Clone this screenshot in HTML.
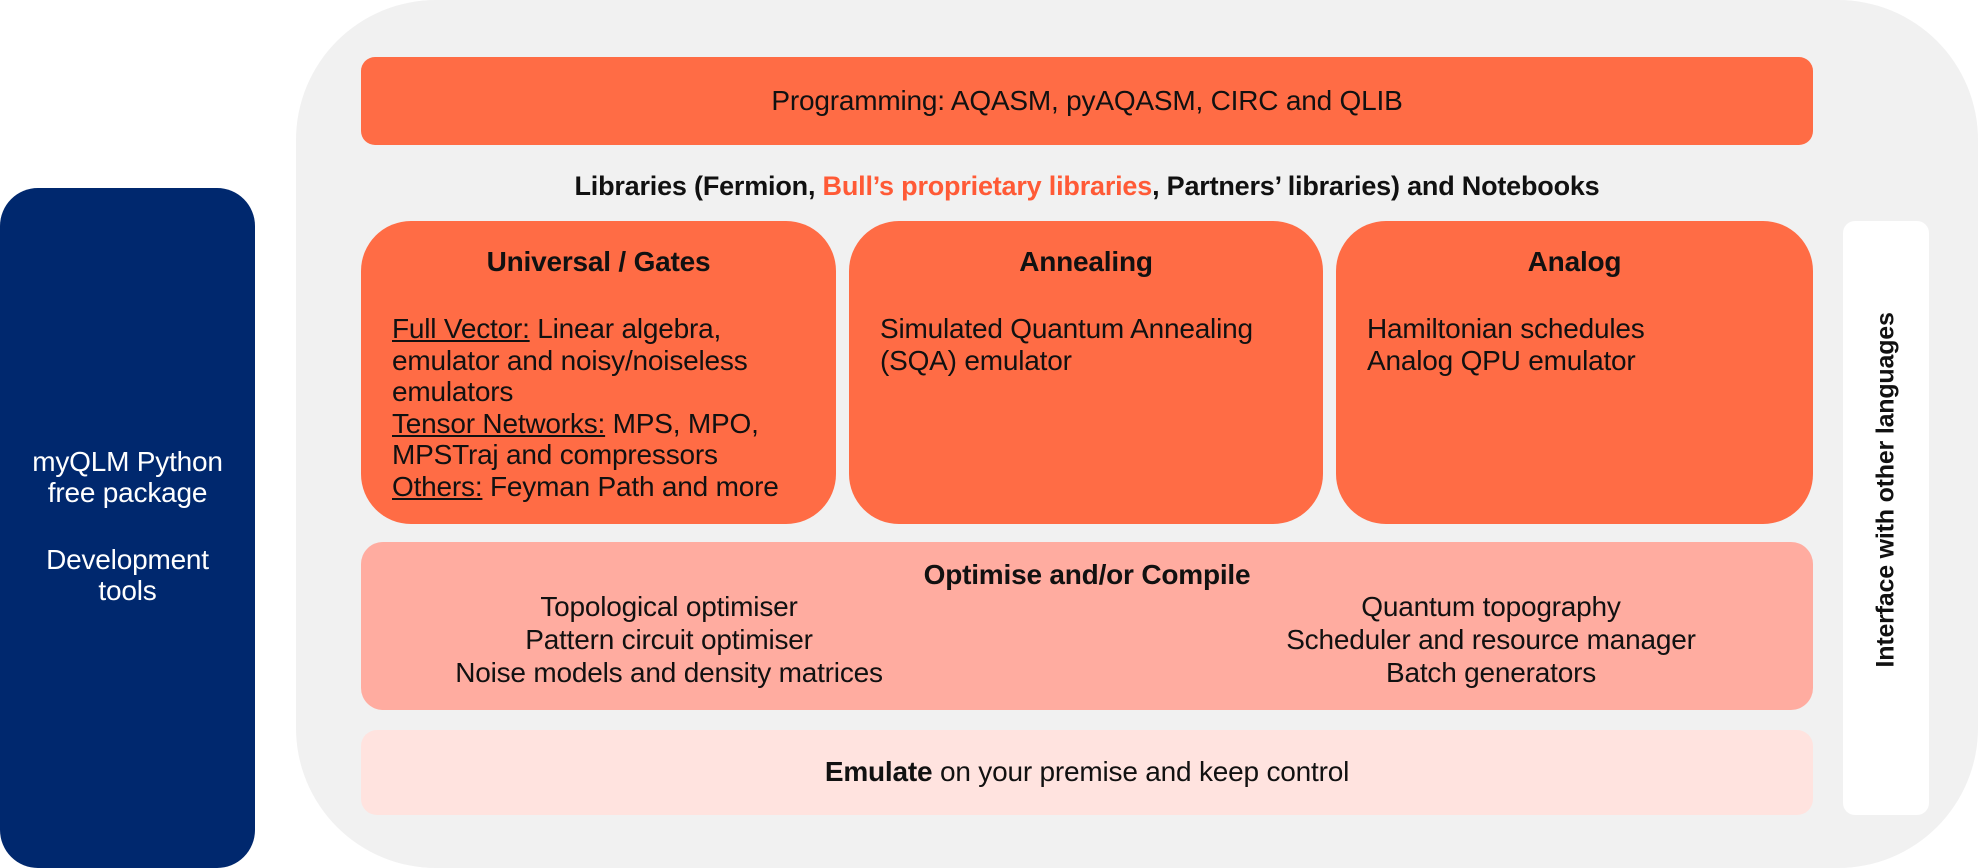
<!DOCTYPE html>
<html><head><style>
html,body{margin:0;width:1978px;height:868px;overflow:hidden;}
body{background:#fff;position:relative;font-family:"Liberation Sans",sans-serif;color:#111;}
div{position:absolute;box-sizing:border-box;}
.t{font-size:28px;letter-spacing:-0.2px;white-space:nowrap;}
.c{text-align:center;}
b{font-weight:bold;}
u{text-decoration:underline;}
</style></head><body>
<div style="left:296px;top:0;width:1682px;height:868px;background:#f1f1f1;border-radius:140px;"></div>
<div style="left:0;top:188px;width:255px;height:680px;background:#00286e;border-radius:38px;"></div>
<div class="t c" style="left:0;top:446px;width:255px;color:#fff;line-height:31px;">myQLM Python<br>free package<br><div style="position:static;height:36px"></div>Development<br>tools</div>

<div style="left:361px;top:57px;width:1452px;height:88px;background:#ff6c45;border-radius:14px;"></div>
<div class="t c" style="left:361px;top:85px;width:1452px;">Programming: AQASM, pyAQASM, CIRC and QLIB</div>

<div class="t c" style="left:361px;top:171px;width:1452px;font-weight:bold;font-size:27px;">Libraries (Fermion, <span style="color:#ff5a36">Bull’s proprietary libraries</span>, Partners’ libraries) and Notebooks</div>

<div style="left:361px;top:221px;width:475px;height:303px;background:#ff6c45;border-radius:50px;"></div>
<div style="left:849px;top:221px;width:474px;height:303px;background:#ff6c45;border-radius:50px;"></div>
<div style="left:1336px;top:221px;width:477px;height:303px;background:#ff6c45;border-radius:50px;"></div>

<div class="t c" style="left:361px;top:246px;width:475px;font-weight:bold;">Universal / Gates</div>
<div class="t c" style="left:849px;top:246px;width:474px;font-weight:bold;">Annealing</div>
<div class="t c" style="left:1336px;top:246px;width:477px;font-weight:bold;">Analog</div>

<div class="t" style="left:392px;top:313px;line-height:31.6px;"><u>Full Vector:</u> Linear algebra,<br>emulator and noisy/noiseless<br>emulators<br><u>Tensor Networks:</u> MPS, MPO,<br>MPSTraj and compressors<br><u>Others:</u> Feyman Path and more</div>
<div class="t" style="left:880px;top:313px;line-height:31.6px;">Simulated Quantum Annealing<br>(SQA) emulator</div>
<div class="t" style="left:1367px;top:313px;line-height:31.6px;">Hamiltonian schedules<br>Analog QPU emulator</div>

<div style="left:361px;top:542px;width:1452px;height:168px;background:#ffaca0;border-radius:22px;"></div>
<div class="t c" style="left:361px;top:559px;width:1452px;font-weight:bold;">Optimise and/or Compile</div>
<div class="t c" style="left:369px;top:590px;width:600px;line-height:33px;">Topological optimiser<br>Pattern circuit optimiser<br>Noise models and density matrices</div>
<div class="t c" style="left:1191px;top:590px;width:600px;line-height:33px;">Quantum topography<br>Scheduler and resource manager<br>Batch generators</div>

<div style="left:361px;top:730px;width:1452px;height:85px;background:#ffe3df;border-radius:16px;"></div>
<div class="t c" style="left:361px;top:756px;width:1452px;"><b>Emulate</b> on your premise and keep control</div>

<div style="left:1843px;top:221px;width:86px;height:594px;background:#fff;border-radius:12px;"></div>
<div class="t c" style="left:1736px;top:503px;width:300px;font-weight:bold;font-size:25px;transform:rotate(-90deg);">Interface with other languages</div>
</body></html>
